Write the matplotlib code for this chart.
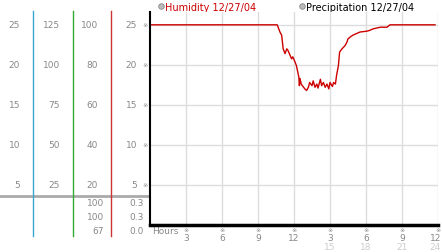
import matplotlib.pyplot as plt
import matplotlib.transforms as mtransforms
import numpy as np

plt.rcParams['font.family'] = ['DejaVu Sans', 'Noto Sans CJK JP']

# humidity trace (hour of day, value)
hours = [0, 10.6, 10.83, 10.97, 11.1, 11.25, 11.4, 11.5, 11.67, 11.8, 11.9,
         12.1, 12.2, 12.4, 12.45, 12.5, 12.6, 12.8, 12.9, 13.05, 13.2, 13.3,
         13.5, 13.6, 13.75, 13.9, 14.0, 14.2, 14.3, 14.45, 14.6, 14.75, 14.9,
         15.0, 15.2, 15.3, 15.45, 15.55, 15.7, 15.8, 16.0, 16.25, 16.4, 16.5,
         16.7, 16.9, 17.5, 18.05, 18.3, 18.6, 19.2, 19.75, 20.0, 23.75]
humidity = [25, 25, 24.1, 23.7, 22.0, 21.4, 22.0, 21.8, 21.2, 20.75, 21.0,
            20.3, 19.9, 18.5, 17.4, 18.3, 17.6, 17.2, 17.0, 16.8, 17.2, 17.8,
            17.4, 18.0, 17.2, 17.6, 17.1, 18.2, 17.4, 17.8, 17.2, 17.6, 17.0,
            17.8, 17.3, 17.8, 17.6, 18.7, 19.9, 21.6, 22.0, 22.4, 22.8, 23.25,
            23.5, 23.7, 24.1, 24.2, 24.3, 24.5, 24.7, 24.7, 25, 25]
precip_hours = [0, 24]
precip = [0, 0]

# left side scale columns (one row per humidity gridline)
levels = [25, 20, 15, 10, 5]
col1 = [25, 20, 15, 10, 5]
col2 = [125, 100, 75, 50, 25]
col3 = [100, 80, 60, 40, 20]
col4 = [25, 20, 15, 10, 5]
col3_extra = ['100', '100', '67']
col4_extra = ['0.3', '0.3', '0.0']
x_ticks = [3, 6, 9, 12, 15, 18, 21, 24]
x_labels = ['3', '6', '9', '12', '3', '6', '9', '12']
x_ticks2 = [15, 18, 21, 24]
x_labels2 = ['15', '18', '21', '24']

W, H = 442, 253
fig = plt.figure(figsize=(W / 100, H / 100), dpi=100)


def box(x0, y0, x1, y1):
    return [x0 / W, 1 - y1 / H, (x1 - x0) / W, (y1 - y0) / H]


ov = fig.add_axes([0, 0, 1, 1])
ov.set_xlim(0, W)
ov.set_ylim(H, 0)
ov.axis('off')

ax = fig.add_axes(box(150, 13, 438, 226))
ax.set_xlim(0, 24)
ax.set_ylim(0, 26.6)
ax.set_xticks(x_ticks)
ax.set_yticks(levels)
ax.grid(color='#dddddd', lw=1)
ax.tick_params(length=0, labelbottom=False, labelleft=False)
for s in ['top', 'right', 'bottom']:
    ax.spines[s].set_visible(False)
ax.spines['left'].set_color('black')
ax.spines['left'].set_linewidth(1.5)
ax.plot(hours, humidity, color='#cc0000', lw=1)
ax.plot(precip_hours, precip, color='black', lw=2.5, clip_on=False)

# left panel
gray = '#888888'
ytr = mtransforms.blended_transform_factory(ov.transData, ax.transData)
for xr, col in [(20, col1), (60, col2), (98, col3), (137, col4)]:
    for lv, v in zip(levels, col):
        ov.text(xr, lv, str(v), transform=ytr, ha='right', va='center',
                fontsize=6.5, color=gray)
for lv in levels:
    ov.text(145, lv, '※', transform=ytr, ha='center', va='center',
            fontsize=4.5, color=gray)
for i, (a, b) in enumerate(zip(col3_extra, col4_extra)):
    y = 204 + i * 14
    ov.text(104, y, a, ha='right', va='center', fontsize=6.5, color=gray)
    ov.text(144, y, b, ha='right', va='center', fontsize=6.5, color=gray)

ov.plot([0, 150], [197, 197], color='#aaaaaa', lw=2)
ov.plot([33, 33], [12, 237], color='#3aa6cc', lw=1)
ov.plot([72.5, 72.5], [12, 237], color='#33aa33', lw=1)
ov.plot([111, 111], [12, 237], color='#cc3333', lw=1)

# x labels (last one pushed in so it stays on the canvas)
xtr = mtransforms.blended_transform_factory(ax.transData, ov.transData)
ov.text(152, 232, 'Hours', ha='left', va='center', fontsize=6.5, color=gray)
for t, lab in zip(x_ticks, x_labels):
    ov.text(t, 231, '※', transform=xtr, ha='center', va='center',
            fontsize=4.5, color=gray)
    if t == x_ticks[-1]:
        ov.text(W - 1, 238.5, lab, ha='right', va='center', fontsize=6.5,
                color=gray)
    else:
        ov.text(t, 238.5, lab, transform=xtr, ha='center', va='center',
                fontsize=6.5, color=gray)
for t, lab in zip(x_ticks2, x_labels2):
    if t == x_ticks2[-1]:
        ov.text(W - 1, 247.5, lab, ha='right', va='center', fontsize=6.5,
                color='#cccccc')
    else:
        ov.text(t, 247.5, lab, transform=xtr, ha='center', va='center',
                fontsize=6.5, color='#cccccc')

# legend
ov.plot([161], [7], marker='o', ms=4, mfc='#bbbbbb', mec='#888888', mew=0.6)
ov.text(165, 7.5, 'Humidity 12/27/04', ha='left', va='center', fontsize=7,
        color='#cc0000')
ov.plot([302], [7], marker='o', ms=4, mfc='#bbbbbb', mec='#888888', mew=0.6)
ov.text(306, 7.5, 'Precipitation 12/27/04', ha='left', va='center',
        fontsize=7, color='black')

fig.savefig('out.png', dpi=100)
